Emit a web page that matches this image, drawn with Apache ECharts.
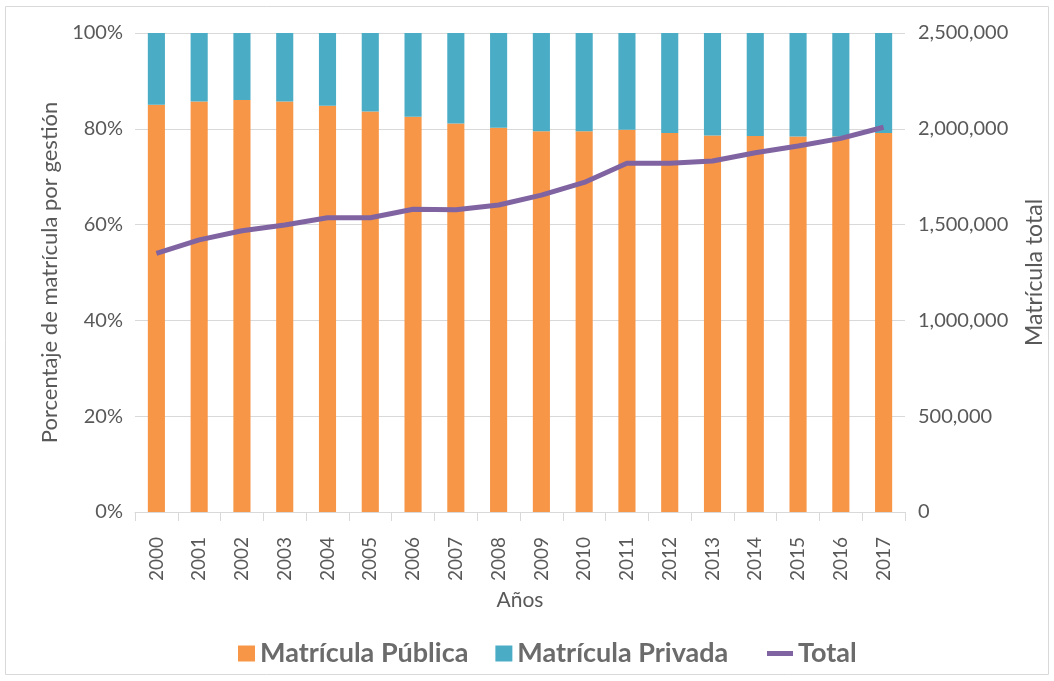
<!DOCTYPE html>
<html>
<head>
<meta charset="utf-8">
<script src="https://cdn.jsdelivr.net/npm/echarts@6/dist/echarts.min.js"></script>
<style>
  html, body { margin: 0; padding: 0; background: #fff; }
  #chart { width: 1054px; height: 681px; }
</style>
</head>
<body>
<div id="chart"></div>
<script>
// años y valores
var years = ['2000', '2001', '2002', '2003', '2004', '2005', '2006', '2007', '2008',
             '2009', '2010', '2011', '2012', '2013', '2014', '2015', '2016', '2017'];
var publica = [85.0, 85.7, 86.0, 85.7, 84.8, 83.6, 82.5, 81.1, 80.2,
               79.5, 79.5, 79.8, 79.1, 78.6, 78.5, 78.4, 78.4, 79.1];
var privada = [15.0, 14.3, 14.0, 14.3, 15.2, 16.4, 17.5, 18.9, 19.8,
               20.5, 20.5, 20.2, 20.9, 21.4, 21.5, 21.6, 21.6, 20.9];
var total = [1350000, 1420000, 1468000, 1498000, 1536000, 1536000, 1580000, 1578000, 1602000,
             1654000, 1720000, 1820000, 1820000, 1832000, 1875000, 1910000, 1950000, 2008000];

var grey = '#595959';
var font = 'Lato, "Open Sans", sans-serif';
var legendText = { color: '#6b6b6b', fontSize: 27, fontWeight: 'bold', fontFamily: font };

var chart = echarts.init(document.getElementById('chart'));
chart.setOption({
  animation: false,
  textStyle: { fontFamily: font },
  graphic: [{
    type: 'rect',
    shape: { x: 5.5, y: 6.5, width: 1043, height: 668 },
    style: { fill: 'none', stroke: '#d9d9d9', lineWidth: 1 }
  }],
  grid: { left: 135, right: 146, top: 33, bottom: 169 },
  legend: [{
    top: 640,
    left: 238,
    padding: 0,
    itemGap: 27,
    itemWidth: 17,
    itemHeight: 16,
    textStyle: legendText,
    data: [
      { name: 'Matrícula Pública', icon: 'rect' },
      { name: 'Matrícula Privada', icon: 'rect' }
    ]
  }, {
    top: 640,
    left: 767,
    padding: 0,
    itemWidth: 26,
    itemHeight: 5,
    textStyle: legendText,
    data: [{ name: 'Total', icon: 'rect' }]
  }],
  xAxis: {
    type: 'category',
    data: years,
    name: 'Años',
    nameLocation: 'middle',
    nameGap: 78,
    nameTextStyle: { color: grey, fontSize: 21 },
    axisLine: { lineStyle: { color: '#d9d9d9' } },
    axisTick: { show: true, length: 9, lineStyle: { color: '#d9d9d9' } },
    axisLabel: { rotate: 90, color: grey, fontSize: 19, margin: 25 }
  },
  yAxis: [{
    type: 'value',
    min: 0,
    max: 100,
    interval: 20,
    name: 'Porcentaje de matrícula por gestión',
    nameLocation: 'middle',
    nameGap: 74,
    nameTextStyle: { color: grey, fontSize: 22 },
    axisLabel: { formatter: '{value}%', color: grey, fontSize: 20, margin: 12 },
    splitLine: { lineStyle: { color: '#d9d9d9' } },
    axisLine: { show: false },
    axisTick: { show: false }
  }, {
    type: 'value',
    min: 0,
    max: 2500000,
    interval: 500000,
    name: 'Matrícula total',
    nameLocation: 'middle',
    nameGap: 118,
    nameRotate: 90,
    nameTextStyle: { color: grey, fontSize: 23 },
    axisLabel: {
      color: grey, fontSize: 20, margin: 13,
      formatter: function (v) { return v.toLocaleString('en-US'); }
    },
    splitLine: { show: false },
    axisLine: { show: false },
    axisTick: { show: false }
  }],
  series: [{
    name: 'Matrícula Pública',
    type: 'bar',
    stack: 'pct',
    barWidth: '40%',
    itemStyle: { color: '#F79646' },
    data: publica
  }, {
    name: 'Matrícula Privada',
    type: 'bar',
    stack: 'pct',
    itemStyle: { color: '#4BACC6' },
    data: privada
  }, {
    name: 'Total',
    type: 'line',
    yAxisIndex: 1,
    symbol: 'none',
    lineStyle: { color: '#8064A2', width: 5 },
    itemStyle: { color: '#8064A2' },
    data: total
  }]
});
</script>
</body>
</html>
